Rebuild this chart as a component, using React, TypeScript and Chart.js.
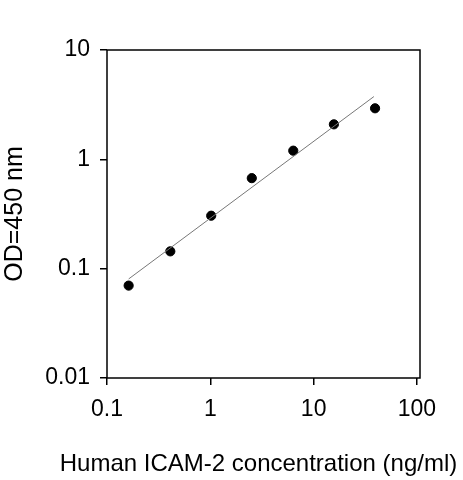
import React, { useEffect, useRef } from "react";
import { Chart, registerables } from "chart.js";

Chart.register(...registerables);

const concentrations = [0.162, 0.41, 1.02, 2.52, 6.35, 15.7, 39.3];
const odValues = [0.07, 0.144, 0.305, 0.673, 1.2, 2.09, 2.93];
const fitX = [0.162, 38.3];
const fitY = [0.0805, 3.75];
const xTicks = [0.1, 1, 10, 100];
const yTicks = [0.01, 0.1, 1, 10];
const xTitle = "Human ICAM-2 concentration (ng/ml)";
const yTitle = "OD=450 nm";

const FONT = "'Liberation Sans', Arial, sans-serif";

const boxPlugin = {
  id: "box",
  afterDraw(chart: any) {
    const { ctx, chartArea } = chart;
    ctx.save();
    ctx.strokeStyle = "#000";
    ctx.lineWidth = 1.5;
    ctx.strokeRect(chartArea.left, chartArea.top, chartArea.right - chartArea.left, chartArea.bottom - chartArea.top);
    // x-axis title (drawn here so it is not squeezed to the plot width)
    ctx.fillStyle = "#000";
    ctx.font = `24px ${FONT}`;
    ctx.textAlign = "center";
    ctx.textBaseline = "middle";
    const cx = (chartArea.left + chartArea.right) / 2 - 5;
    ctx.fillText(xTitle, cx, chart.height - 16);
    ctx.restore();
  },
};

export default function App() {
  const ref = useRef<HTMLCanvasElement>(null);
  useEffect(() => {
    if (!ref.current) return;
    const chart = new Chart(ref.current, {
      type: "scatter",
      data: {
        datasets: [
          {
            type: "line",
            data: fitX.map((x, i) => ({ x, y: fitY[i] })),
            borderColor: "#777",
            borderWidth: 1,
            pointRadius: 0,
            fill: false,
          },
          {
            data: concentrations.map((x, i) => ({ x, y: odValues[i] })),
            backgroundColor: "#000",
            borderColor: "#000",
            pointRadius: 4.6,
          },
        ],
      },
      plugins: [boxPlugin],
      options: {
        responsive: false,
        animation: false,
        layout: { padding: { left: 0, right: 43, top: 50, bottom: 0 } },
        plugins: { legend: { display: false }, tooltip: { enabled: false } },
        scales: {
          x: {
            type: "logarithmic",
            min: 0.1,
            max: 107,
            afterBuildTicks: (s: any) => {
              s.ticks = xTicks.map((v) => ({ value: v }));
            },
            afterFit: (s: any) => {
              s.height = 102;
            },
            border: { display: false },
            grid: { drawOnChartArea: false, drawTicks: true, tickLength: 7, color: "#000", lineWidth: 1.5 },
            ticks: {
              color: "#000",
              padding: 11,
              font: { family: FONT, size: 23 },
              maxRotation: 0,
              autoSkip: false,
              callback: (v: any) => String(v),
            },
            title: { display: false },
          },
          y: {
            type: "logarithmic",
            min: 0.01,
            max: 10,
            afterBuildTicks: (s: any) => {
              s.ticks = yTicks.map((v) => ({ value: v }));
            },
            afterFit: (s: any) => {
              s.width = 107;
            },
            border: { display: false },
            grid: { drawOnChartArea: false, drawTicks: true, tickLength: 7, color: "#000", lineWidth: 1.5 },
            ticks: {
              color: "#000",
              padding: 10,
              font: { family: FONT, size: 23 },
              autoSkip: false,
              callback: (v: any) => String(v),
            },
            title: {
              display: true,
              text: yTitle,
              color: "#000",
              font: { family: FONT, size: 25 },
              padding: { top: 0, bottom: 0 },
            },
          },
        },
      },
    });
    return () => chart.destroy();
  }, []);
  return (
    <div style={{ position: "absolute", left: 0, top: 0, width: 463, height: 480, background: "#fff" }}>
      <canvas ref={ref} width={463} height={480} style={{ width: 463, height: 480 }} />
    </div>
  );
}
